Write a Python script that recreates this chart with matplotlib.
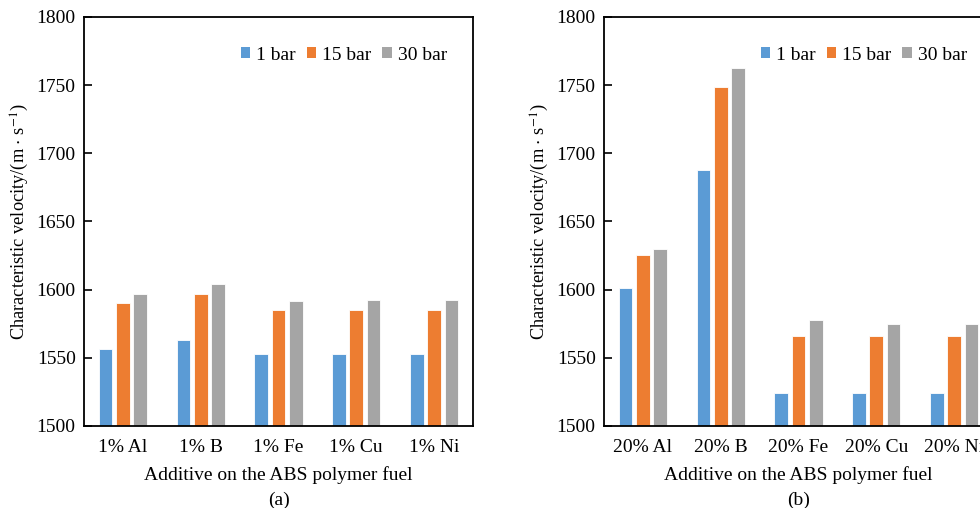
import numpy as np
import matplotlib
matplotlib.use("Agg")
import matplotlib.pyplot as plt
from matplotlib.patches import Patch

plt.rcParams['font.family'] = ['Liberation Serif', 'DejaVu Serif']
plt.rcParams['mathtext.fontset'] = 'stix'

pressures = ["1 bar", "15 bar", "30 bar"]
colors = ["#5B9BD5", "#ED7D31", "#A5A5A5"]

labels_a = ["1% Al", "1% B", "1% Fe", "1% Cu", "1% Ni"]
cstar_a_1 = [1556.5, 1563, 1553, 1553, 1553]
cstar_a_15 = [1590.5, 1597, 1585, 1585, 1585]
cstar_a_30 = [1596.5, 1604, 1591.5, 1592.5, 1592.5]

labels_b = ["20% Al", "20% B", "20% Fe", "20% Cu", "20% Ni"]
cstar_b_1 = [1601, 1688, 1524.5, 1524, 1524.5]
cstar_b_15 = [1625.5, 1748.5, 1566, 1566, 1566]
cstar_b_30 = [1629.5, 1762.5, 1577.5, 1575, 1575]

fig = plt.figure(figsize=(9.8, 5.08), dpi=100)
ax_a = fig.add_axes([84/980, 1-426/508, 389/980, 409/508])
ax_b = fig.add_axes([604/980, 1-426/508, 389/980, 409/508])


def draw(ax, labels, series, tag):
    x = np.arange(len(labels))
    pitch = 0.222
    width = 0.175
    for k, vals in enumerate(series):
        ax.bar(x + (k - 1)*pitch, np.array(vals) - 1500, bottom=1500, width=width,
               color=colors[k], edgecolor='white', linewidth=0.6)
    ax.set_xlim(-0.5, len(labels) - 0.5)
    ax.set_ylim(1500, 1800)
    ax.set_yticks(np.arange(1500, 1801, 50))
    ax.set_xticks(x)
    ax.set_xticklabels(labels)
    ax.tick_params(axis='y', direction='in', length=6, width=1.2, labelsize=14, pad=6)
    ax.tick_params(axis='x', length=0, labelsize=14, pad=9)
    for s in ax.spines.values():
        s.set_linewidth(1.3)
    ax.set_ylabel(r"Characteristic velocity/(m $\cdot$ s$^{-1}$)", fontsize=13.2, labelpad=4)
    ax.set_xlabel("Additive on the ABS polymer fuel" + "\n" + tag, fontsize=14,
                  labelpad=8, linespacing=1.55)
    handles = [Patch(facecolor=c, edgecolor='none') for c in colors]
    ax.legend(handles, pressures, loc='center right', ncol=3, frameon=False, fontsize=14,
              handlelength=0.5, handleheight=0.5, handletextpad=0.3, columnspacing=0.55,
              bbox_to_anchor=(0.978, 0.907))


draw(ax_a, labels_a, [cstar_a_1, cstar_a_15, cstar_a_30], "(a)")
draw(ax_b, labels_b, [cstar_b_1, cstar_b_15, cstar_b_30], "(b)")

fig.savefig("out.png", dpi=100)
